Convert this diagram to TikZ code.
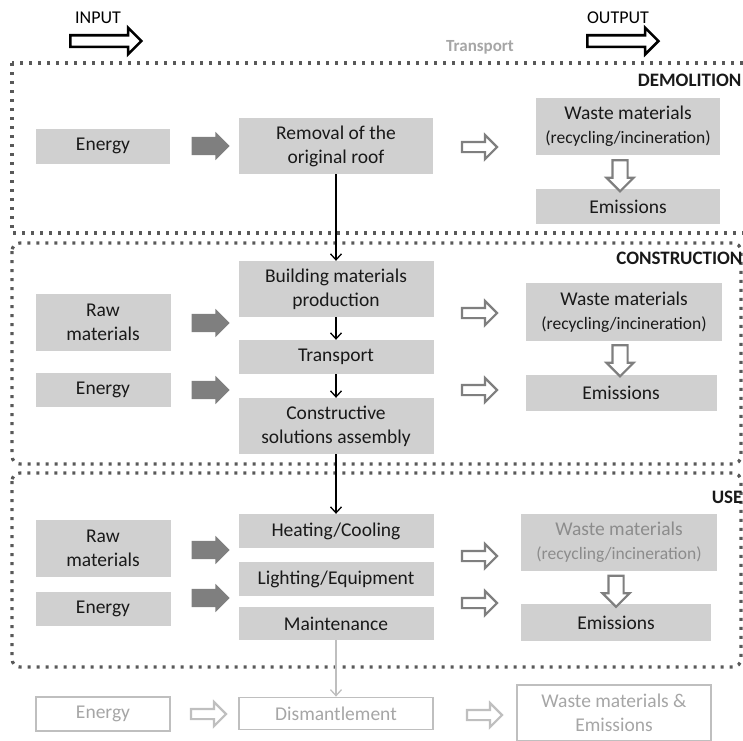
\documentclass[tikz,border=0pt]{standalone}
\usepackage{fontspec}
\setmainfont{Carlito}
\usetikzlibrary{shapes.arrows,arrows.meta}
\definecolor{boxgray}{HTML}{D0D0D0}
\definecolor{arrgray}{HTML}{7F7F7F}
\definecolor{dotgray}{HTML}{595959}
\definecolor{lightline}{HTML}{BFBFBF}
\definecolor{lighttext}{HTML}{A6A6A6}
\definecolor{midtext}{HTML}{8C8C8C}
\newcommand{\smallline}[1]{{\fontsize{17.5}{22}\selectfont #1}}
\tikzset{
  box/.style={fill=boxgray, draw=none, inner sep=1pt, align=center,
    font=\fontsize{19.5}{24}\selectfont, text=black!90},
  ghostbox/.style={fill=white, draw=lightline, line width=1.8pt, inner sep=1pt, align=center,
    font=\fontsize{19.5}{24}\selectfont, text=lighttext},
  darrow/.style={single arrow, fill=arrgray, draw=none, inner xsep=0pt, inner ysep=9pt,
    minimum height=38pt, single arrow head extend=5pt},
  harrow/.style={single arrow, fill=white, draw=arrgray, line width=2.2pt, inner xsep=0pt, inner ysep=4pt,
    minimum height=35pt, single arrow head extend=7pt},
  lharrow/.style={harrow, draw=lightline},
  vharrow/.style={single arrow, fill=white, draw=arrgray, line width=2.2pt, inner xsep=0pt, inner ysep=6.5pt,
    minimum height=31pt, single arrow head extend=6pt, rotate=-90},
  bigarrow/.style={single arrow, fill=white, draw=black, line width=2.6pt, inner xsep=0pt, inner ysep=4.5pt,
    minimum height=71pt, single arrow head extend=7.5pt},
  frame/.style={draw=dotgray, line width=3.2pt, dash pattern=on 3.2pt off 5.8pt},
  flow/.style={draw=black, line width=1.3pt, -{Straight Barb[length=6pt,width=11pt,line width=1.3pt]}},
  lflow/.style={flow, draw=lightline, -{Straight Barb[length=6pt,width=11pt,line width=1.3pt]}},
  phase/.style={font=\fontsize{19}{22}\selectfont\bfseries, anchor=east, text=black!90},
  head/.style={font=\fontsize{18}{21}\selectfont, text=black}
}
\begin{document}
\begin{tikzpicture}[x=1pt,y=-1pt]
\useasboundingbox (0,0) rectangle (743,740);
\begin{scope}
\clip (0,0) rectangle (743,740);

% header
\node[head] (inl) at (98,18) {INPUT};
\node[head] (outl) at (618,18) {OUTPUT};
\node[bigarrow] (inarr) at (103,41) {};
\node[bigarrow] (outarr) at (620,41) {};
\node[font=\fontsize{17}{20}\selectfont\bfseries, text=lighttext] (trl) at (480,47) {Transport};

% frames
\draw[frame] (12,63) rectangle (770,233);
\draw[frame, rounded corners=8pt] (12,243) rectangle (741,464);
\draw[frame, rounded corners=8pt] (12,473) rectangle (741,667);
\node[phase] (pdem) at (745,80) {DEMOLITION};
\node[phase] (pcon) at (746,258) {CONSTRUCTION};
\node[phase] (puse) at (746,497) {USE};

% demolition
\node[box, minimum width=134pt, minimum height=35pt] (dEn) at (103,146) {Energy};
\node[box, minimum width=194pt, minimum height=56pt] (dRem) at (336,146) {Removal of the\\original roof};
\node[box, minimum width=184pt, minimum height=57pt] (dWas) at (628,126.5) {Waste materials\\\smallline{(recycling/incineration)}};
\node[box, minimum width=184pt, minimum height=35pt] (dEmi) at (628,206.5) {Emissions};
\node[darrow] (dA1) at (206,146) {};
\node[harrow] (dA2) at (477,147) {};
\node[vharrow] (dA3) at (620,172) {};

% construction
\node[box, minimum width=135pt, minimum height=57pt] (cRaw) at (103,322) {Raw\\materials};
\node[box, minimum width=135pt, minimum height=34pt] (cEn) at (103,390) {Energy};
\node[box, minimum width=195pt, minimum height=56pt] (cBld) at (336,289) {Building materials\\production};
\node[box, minimum width=195pt, minimum height=34pt] (cTr) at (336,357) {Transport};
\node[box, minimum width=195pt, minimum height=56pt] (cCon) at (336,426) {Constructive\\solutions assembly};
\node[box, minimum width=196pt, minimum height=58pt] (cWas) at (624,312) {Waste materials\\\smallline{(recycling/incineration)}};
\node[box, minimum width=191pt, minimum height=36pt] (cEmi) at (621,393) {Emissions};
\node[darrow] (cA1) at (206,323) {};
\node[darrow] (cA2) at (206,390) {};
\node[harrow] (cA3) at (477,313) {};
\node[harrow] (cA4) at (477,390) {};
\node[vharrow] (cA5) at (620,357) {};

% use
\node[box, minimum width=135pt, minimum height=57pt] (uRaw) at (103,548.5) {Raw\\materials};
\node[box, minimum width=135pt, minimum height=34pt] (uEn) at (103,609) {Energy};
\node[box, minimum width=195pt, minimum height=34pt] (uHeat) at (336,531) {Heating/Cooling};
\node[box, minimum width=195pt, minimum height=34pt] (uLight) at (336,579) {Lighting/Equipment};
\node[box, minimum width=195pt, minimum height=33pt] (uMaint) at (336,623.5) {Maintenance};
\node[box, minimum width=196pt, minimum height=57pt, text=midtext] (uWas) at (619,542.5) {Waste materials\\\smallline{(recycling/incineration)}};
\node[box, minimum width=190pt, minimum height=37pt] (uEmi) at (616,622.5) {Emissions};
\node[darrow] (uA1) at (206,550) {};
\node[darrow] (uA2) at (206,598) {};
\node[harrow] (uA3) at (477,556) {};
\node[harrow] (uA4) at (477,603) {};
\node[vharrow] (uA5) at (616,587.5) {};

% end of life
\node[ghostbox, minimum width=134pt, minimum height=34pt] (bEn) at (103,714) {Energy};
\node[ghostbox, minimum width=194pt, minimum height=32pt] (bDis) at (336,713.5) {Dismantlement};
\node[ghostbox, minimum width=194pt, minimum height=56pt] (bWE) at (614,713) {Waste materials \&\\Emissions};
\node[lharrow] (bA1) at (206,714) {};
\node[lharrow] (bA2) at (482,715) {};

% flows
\draw[flow] (dRem.south) -- (cBld.north);
\draw[flow] (cBld.south) -- (cTr.north);
\draw[flow] (cTr.south) -- (cCon.north);
\draw[flow] (cCon.south) -- (uHeat.north);
\draw[lflow] (uMaint.south) -- (bDis.north);
\end{scope}
\end{tikzpicture}
\end{document}
